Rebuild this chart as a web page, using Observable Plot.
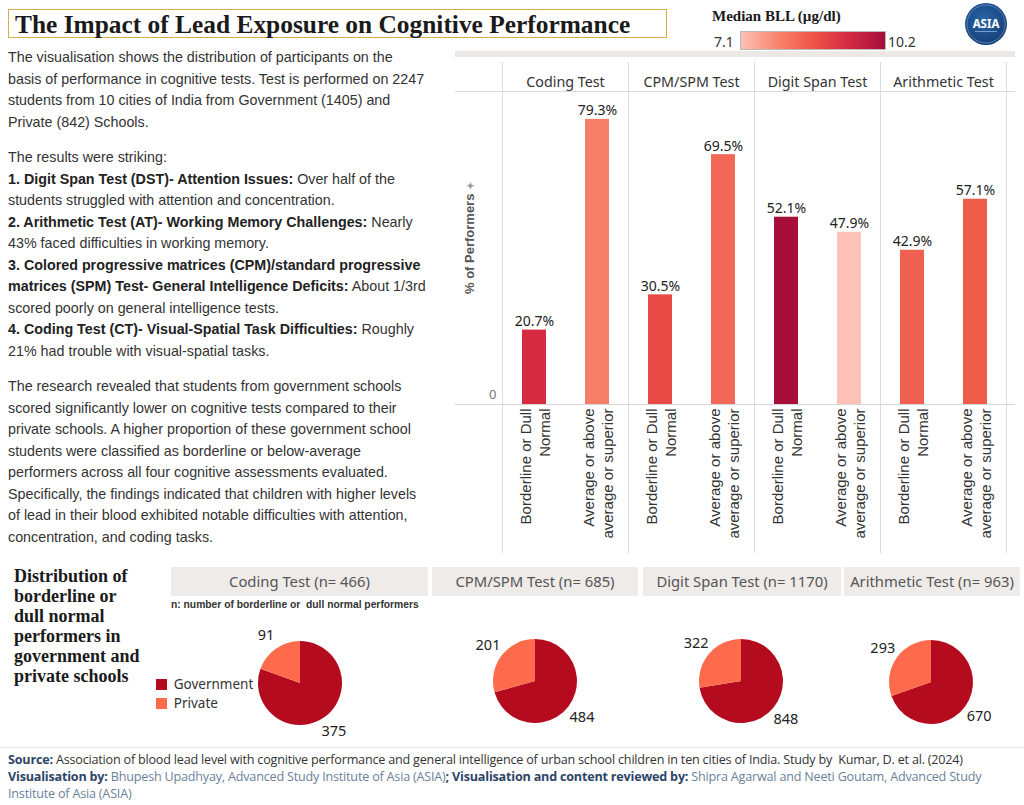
<!DOCTYPE html>
<html><head><meta charset="utf-8">
<script src="https://cdn.jsdelivr.net/npm/d3@7"></script>
<script src="https://cdn.jsdelivr.net/npm/@observablehq/plot@0.6"></script>
<style>
html,body{margin:0;padding:0;background:#fff;}
body{width:1024px;height:805px;overflow:hidden;position:relative;font-family:"Liberation Sans",Arial,sans-serif;}
.abs{position:absolute;}
.serif{font-family:"Liberation Serif","DejaVu Serif",serif;font-weight:bold;color:#1a1a1a;}
#title{left:8px;top:9px;width:657px;height:27px;border:1.5px solid #d6ae4c;box-sizing:content-box;}
#title span{position:absolute;left:6px;top:0px;font-size:25.4px;white-space:nowrap;}
#intro{left:8px;top:47px;width:445px;font-size:14.3px;line-height:21.5px;color:#333;}
#intro p{margin:0 0 14px 0;white-space:nowrap;}
#intro b{color:#222;}
.hline{position:absolute;height:1px;background:#d9d9d9;}
.pieHead{position:absolute;top:567px;height:29px;background:#eeebe8;color:#555;font-family:"Noto Sans",sans-serif;font-size:14.8px;line-height:29px;text-align:center;white-space:nowrap;}
#foot{left:8px;top:751px;font-family:"Open Sans",sans-serif;font-size:12.6px;line-height:17px;color:#6b7f99;white-space:nowrap;letter-spacing:-0.2px;}
#foot b{color:#2c4566;}
#foot .src{color:#333;}
</style></head><body>
<script>
// ---------------- data ----------------
const tests = ["Coding Test", "CPM/SPM Test", "Digit Span Test", "Arithmetic Test"];
const categories = ["Borderline or Dull Normal", "Average or above average or superior"];
const categoryLabels = ["Borderline or Dull\nNormal", "Average or above\naverage or superior"];
const borderlinePct = [20.7, 30.5, 52.1, 42.9];
const averagePct = [79.3, 69.5, 47.9, 57.1];
const borderlineBLL = [9.38, 8.85, 10.2, 8.45];
const averageBLL = [8.0, 8.35, 7.1, 8.53];
const bllDomain = [7.1, 10.2];
const bllColors = ["#fdc1b6", "#f8866f", "#ee5446", "#d42a42", "#a50f3a"];

const sectors = ["Government", "Private"];
const sectorColors = ["#b50b1f", "#fe6a4c"];
const govCounts = [375, 484, 848, 670];
const privCounts = [91, 201, 322, 293];

// ---------------- static text ----------------
const body = document.body;
function add(html, cls, style) {
  const d = document.createElement("div");
  d.className = cls || "abs";
  if (style) d.setAttribute("style", style);
  d.innerHTML = html;
  body.appendChild(d);
  return d;
}
add('<span class="serif">The Impact of Lead Exposure on Cognitive Performance</span>', "abs", "").id = "title";

add(`<p>The visualisation shows the distribution of participants on the<br>basis of performance in cognitive tests. Test is performed on 2247<br>students from 10 cities of India from Government (1405) and<br>Private (842) Schools.</p>
<p>The results were striking:<br><b>1. Digit Span Test (DST)- Attention Issues:</b> Over half of the<br>students struggled with attention and concentration.<br><b>2. Arithmetic Test (AT)- Working Memory Challenges:</b> Nearly<br>43% faced difficulties in working memory.<br><b>3. Colored progressive matrices (CPM)/standard progressive<br>matrices (SPM) Test- General Intelligence Deficits:</b> About 1/3rd<br>scored poorly on general intelligence tests.<br><b>4. Coding Test (CT)- Visual-Spatial Task Difficulties:</b> Roughly<br>21% had trouble with visual-spatial tasks.</p>
<p>The research revealed that students from government schools<br>scored significantly lower on cognitive tests compared to their<br>private schools. A higher proportion of these government school<br>students were classified as borderline or below-average<br>performers across all four cognitive assessments evaluated.<br>Specifically, the findings indicated that children with higher levels<br>of lead in their blood exhibited notable difficulties with attention,<br>concentration, and coding tasks.</p>`, "abs").id = "intro";

// colour legend (Median BLL)
add('Median BLL (µg/dl)', "abs serif", "left:712px;top:8px;font-size:15px;white-space:nowrap;");
add(bllDomain[0].toFixed(1), "abs", "left:714px;top:32px;font-family:'Noto Sans';font-size:14px;color:#333;");
add(bllDomain[1].toFixed(1), "abs", "left:888px;top:32px;font-family:'Noto Sans';font-size:14px;color:#333;");
add('', "abs", `left:740px;top:31px;width:144px;height:17px;border:1px solid #b9b9b9;background:linear-gradient(to right, ${bllColors.join(",")});`);

// logo
add(`<svg width="46" height="46" viewBox="0 0 46 46"><defs><radialGradient id="lg" cx="45%" cy="40%" r="60%"><stop offset="0" stop-color="#2c66a8"/><stop offset="1" stop-color="#153f78"/></radialGradient></defs>
<circle cx="23" cy="23" r="21" fill="url(#lg)"/><circle cx="23" cy="23" r="19" fill="none" stroke="#7fa6d3" stroke-width="1" opacity="0.6"/>
<text x="23" y="27" text-anchor="middle" font-family="Noto Sans" font-size="11.5" font-weight="bold" fill="#fff">ASIA</text>
<rect x="12" y="30" width="22" height="1" fill="#9fbbe0" opacity="0.7"/></svg>`, "abs", "left:963px;top:1px;");

// bar-panel chrome
add('', "abs", "left:455px;top:51px;width:560px;height:6px;background:#ebe8e5;");
add('', "hline", "left:455px;top:91px;width:560px;");

// ---------------- bar chart ----------------
const rows = [];
tests.forEach((t, i) => {
  rows.push({test: t, cat: categories[0], label: categoryLabels[0], pct: borderlinePct[i], bll: borderlineBLL[i]});
  rows.push({test: t, cat: categories[1], label: categoryLabels[1], pct: averagePct[i], bll: averageBLL[i]});
});
const bllStops = bllColors.map((c, i) => bllDomain[0] + i * (bllDomain[1] - bllDomain[0]) / (bllColors.length - 1));

const bar = Plot.plot({
  width: 567, height: 500,
  marginLeft: 45, marginRight: 15, marginTop: 0, marginBottom: 0,
  style: {fontFamily: "'Noto Sans', sans-serif", background: "transparent", overflow: "visible"},
  fx: {domain: tests, padding: 0, axis: null},
  x: {domain: categories, paddingInner: 0.625, paddingOuter: 0.3125, axis: null},
  y: {domain: [0, 100], range: [348, -11.5], axis: null},
  color: {type: "linear", domain: bllStops, range: bllColors},
  marks: [
    Plot.frame({anchor: "left", stroke: "#dcdcdc", insetTop: 6, insetBottom: 4}),
    Plot.frame({anchor: "right", stroke: "#dcdcdc", insetTop: 6, insetBottom: 4}),
    Plot.text(tests, {fx: d => d, text: d => d, frameAnchor: "top", dy: 20, fontSize: 14.3, fill: "#333"}),
    Plot.barY(rows, {fx: "test", x: "cat", y: "pct", fill: "bll"}),
    Plot.text(rows, {fx: "test", x: "cat", y: "pct", text: d => d.pct.toFixed(1) + "%", lineAnchor: "bottom", dy: -4, fontSize: 14, fill: "#222"}),
    Plot.text(rows, {fx: "test", x: "cat", y: () => 0, text: "label", rotate: -90, textAnchor: "end", dy: 4, lineHeight: 1.3, fontSize: 15, fill: "#333", fontFamily: "'Liberation Sans', Arial, sans-serif"}),
    Plot.axisY({ticks: [0], tickSize: 0, tickPadding: 6, dy: -10, fontSize: 13, color: "#777", label: null})
  ]
});
const barWrap = add('', "abs", "left:455px;top:56px;");
barWrap.appendChild(bar);
const baseY = 56 + bar.scale("y").apply(0);
add('', "hline", `left:455px;top:${baseY}px;width:560px;background:#d4d4d4;`);
add('% of Performers <span style="color:#999;font-size:10px;">✦</span>', "abs",
  "left:469px;top:238px;transform:translate(-50%,-50%) rotate(-90deg);font-family:'Liberation Sans',Arial;font-weight:bold;font-size:13px;color:#555;white-space:nowrap;");

// ---------------- pies ----------------
add('Distribution of<br>borderline or<br>dull normal<br>performers in<br>government and<br>private schools', "abs serif",
  "left:14px;top:566px;font-size:18px;line-height:20px;");
const headBoxes = [[171, 428], [432, 638], [643, 841], [844, 1020]];
tests.forEach((t, i) => {
  const n = govCounts[i] + privCounts[i];
  const [a, b] = headBoxes[i];
  add(`${t} (n= ${n})`, "pieHead", `left:${a}px;width:${b - a}px;`);
});
add('n: number of borderline or&nbsp; dull normal performers', "abs",
  "left:171px;top:599px;font-family:'Liberation Sans',Arial;font-weight:bold;font-size:10.3px;color:#333;white-space:nowrap;");

const sectorScale = Plot.scale({color: {domain: sectors, range: sectorColors}});
const R = 42, LR = 59;
function pieMark(gov, priv) {
  return (index, scales, values, dims) => {
    const {width, height} = dims;
    const data = [{s: sectors[0], v: gov}, {s: sectors[1], v: priv}];
    const arcs = d3.pie().sort(null).value(d => d.v)(data);
    const arc = d3.arc().innerRadius(0).outerRadius(R);
    const labelArc = d3.arc().innerRadius(LR).outerRadius(LR);
    const g = d3.create("svg:g").attr("transform", `translate(${width / 2},${height / 2})`);
    g.selectAll("path").data(arcs).join("path").attr("d", arc).attr("fill", d => sectorScale.apply(d.data.s));
    g.selectAll("text").data(arcs).join("text")
      .attr("transform", d => `translate(${labelArc.centroid(d)})`)
      .attr("text-anchor", "middle").attr("dy", "0.35em")
      .attr("font-family", "Noto Sans").attr("font-size", 14.5).attr("fill", "#222")
      .text(d => d.data.v);
    return g.node();
  };
}
const pieCenters = [[300, 683], [535, 681], [741, 681], [931, 682]];
tests.forEach((t, i) => {
  const p = Plot.plot({width: 160, height: 150, margin: 0, style: {background: "transparent", overflow: "visible"},
    marks: [pieMark(govCounts[i], privCounts[i])]});
  const w = add('', "abs", `left:${pieCenters[i][0] - 80}px;top:${pieCenters[i][1] - 75}px;`);
  w.appendChild(p);
});
const leg = Plot.legend({color: {domain: sectors, range: sectorColors}, legend: "swatches", columns: 1, swatchSize: 11,
  style: {fontSize: "13.5px", fontFamily: "'Noto Sans', sans-serif", color: "#333"}});
const legWrap = add('', "abs", "left:156px;top:675px;");
legWrap.appendChild(leg);

// ---------------- footer ----------------
add('', "hline", "left:0;top:747px;width:1024px;background:#e6e6e6;");
add(`<b>Source:</b> <span class="src">Association of blood lead level with cognitive performance and general intelligence of urban school children in ten cities of India. Study by&nbsp; Kumar, D. et al. (2024)</span><br><b>Visualisation by:</b> Bhupesh Upadhyay, Advanced Study Institute of Asia (ASIA)<b>; Visualisation and content reviewed by:</b> Shipra Agarwal and Neeti Goutam, Advanced Study<br>Institute of Asia (ASIA)`, "abs").id = "foot";
</script>
</body></html>
